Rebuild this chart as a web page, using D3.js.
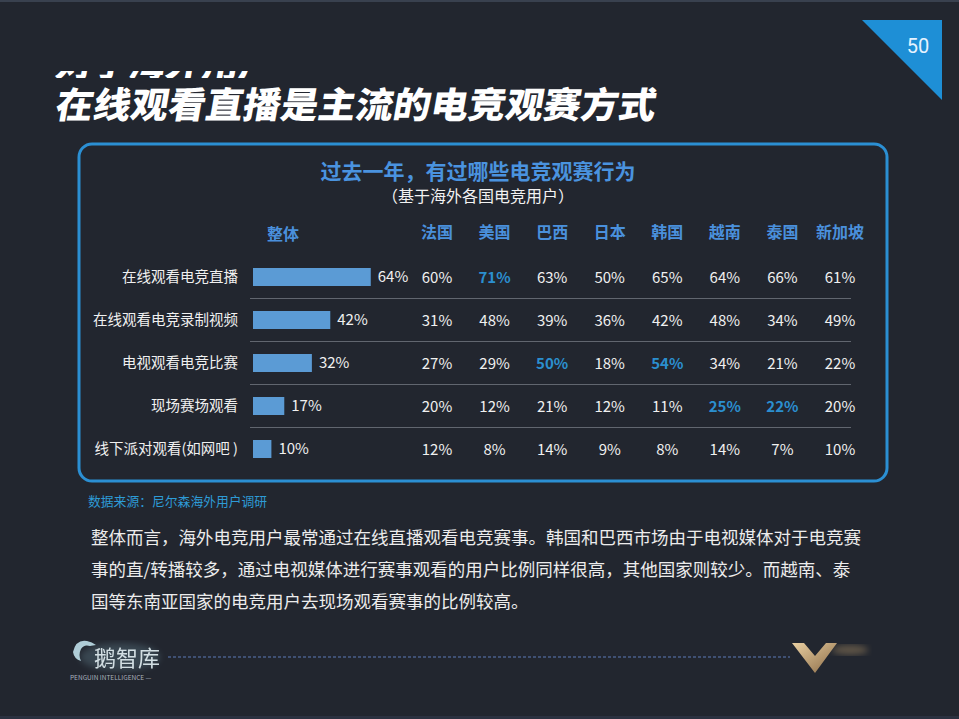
<!DOCTYPE html>
<html><head><meta charset="utf-8">
<script src="https://cdn.jsdelivr.net/npm/d3@7"></script>
<style>
html,body{margin:0;padding:0;background:#22262f;}
svg{display:block;font-family:"Noto Sans CJK SC","Noto Sans",sans-serif;}
</style></head>
<body>
<svg id="chart" width="959" height="719"></svg>
<script>
// ---- data ----
const categories = ["在线观看电竞直播","在线观看电竞录制视频","电视观看电竞比赛","现场赛场观看","线下派对观看(如网吧 )"];
const overall = [64, 42, 32, 17, 10];
const countries = ["法国","美国","巴西","日本","韩国","越南","泰国","新加坡"];
const france    = [60, 31, 27, 20, 12];
const usa       = [71, 48, 29, 12, 8];
const brazil    = [63, 39, 50, 21, 14];
const japan     = [50, 36, 18, 12, 9];
const korea     = [65, 42, 54, 11, 8];
const vietnam   = [64, 48, 34, 25, 14];
const thailand  = [66, 34, 21, 22, 7];
const singapore = [61, 49, 22, 20, 10];
const highlights = [[0,"美国"],[2,"巴西"],[2,"韩国"],[3,"越南"],[3,"泰国"]];
const pageNumber = "50";
const preTitle = "对于海外用户";
const mainTitle = "在线观看直播是主流的电竞观赛方式";
const chartTitle = "过去一年，有过哪些电竞观赛行为";
const chartSubtitle = "（基于海外各国电竞用户）";
const overallLabel = "整体";
const sourceText = "数据来源：尼尔森海外用户调研";
const paragraph = [
  "整体而言，海外电竞用户最常通过在线直播观看电竞赛事。韩国和巴西市场由于电视媒体对于电竞赛",
  "事的直/转播较多，通过电视媒体进行赛事观看的用户比例同样很高，其他国家则较少。而越南、泰",
  "国等东南亚国家的电竞用户去现场观看赛事的比例较高。"
];

const countrySeries = [france, usa, brazil, japan, korea, vietnam, thailand, singapore];

// ---- drawing ----
const svg = d3.select("#chart");
const W = 959, H = 719;
const defs = svg.append("defs");
const gold = defs.append("linearGradient").attr("id","gold").attr("x1","0").attr("y1","0").attr("x2","1").attr("y2","1");
gold.append("stop").attr("offset","0").attr("stop-color","#e9cfa2");
gold.append("stop").attr("offset","1").attr("stop-color","#8a6a45");
defs.append("filter").attr("id","blur").append("feGaussianBlur").attr("stdDeviation",3);

svg.append("rect").attr("width", W).attr("height", H).attr("fill", "#22262f");
svg.append("rect").attr("x",0).attr("y",0).attr("width",W).attr("height",2).attr("fill","#39414f");
svg.append("rect").attr("x",0).attr("y",H-3).attr("width",W).attr("height",3).attr("fill","#2b3140");

// page triangle
svg.append("path").attr("d","M862,20 L942,20 L942,100 Z").attr("fill","#1e8fd6");
svg.append("text").attr("x",918).attr("y",53).attr("text-anchor","middle")
  .attr("font-size",20).attr("fill","#e6f3ff").attr("font-family","Roboto, 'Noto Sans', sans-serif").text(pageNumber);

// clipped pre-title (only its lower edge shows)
defs.append("clipPath").attr("id","preclip").append("rect").attr("x",0).attr("y",71).attr("width",400).attr("height",7);
svg.append("g").attr("clip-path","url(#preclip)").append("text")
  .attr("transform","translate(54,77) skewX(-10)")
  .attr("font-size",36).attr("font-weight",900).attr("fill","#ffffff")
  .attr("textLength",220).attr("lengthAdjust","spacingAndGlyphs").text(preTitle);

// main title
svg.append("text")
  .attr("transform","translate(54,118) skewX(-10)")
  .attr("font-size",36).attr("font-weight",900).attr("fill","#ffffff")
  .attr("textLength",600).attr("lengthAdjust","spacingAndGlyphs")
  .text(mainTitle);

// panel
svg.append("rect").attr("x",79).attr("y",144).attr("width",808).attr("height",337)
  .attr("rx",13).attr("fill","none").attr("stroke","#2b8fd3").attr("stroke-width",3);

svg.append("text").attr("x",478).attr("y",179).attr("text-anchor","middle")
  .attr("font-size",21).attr("font-weight",700).attr("fill","#4a93df").text(chartTitle);
svg.append("text").attr("x",478).attr("y",202).attr("text-anchor","middle")
  .attr("font-size",16).attr("fill","#f2f2f2").text(chartSubtitle);

// scales
const y = d3.scalePoint().domain(categories).range([277, 449]);
const x = d3.scaleLinear().domain([0, 100]).range([0, 184]);
const cx = d3.scalePoint().domain(countries).range([437, 840]);
const barX = 253, barH = 18;

// headers
svg.append("text").attr("x",283).attr("y",240).attr("text-anchor","middle")
  .attr("font-size",16).attr("font-weight",700).attr("fill","#4a90dc").text(overallLabel);
svg.selectAll(".hdr").data(countries).join("text").attr("class","hdr")
  .attr("x", d => cx(d)).attr("y", 238).attr("text-anchor","middle")
  .attr("font-size",16).attr("font-weight",700).attr("fill","#4a90dc").text(d => d);

// separators
const seps = d3.pairs(categories).map(([a,b]) => (y(a)+y(b))/2);
svg.selectAll(".sep").data(seps).join("line").attr("class","sep")
  .attr("x1",250).attr("x2",851).attr("y1",d=>d).attr("y2",d=>d)
  .attr("stroke","#61666f").attr("stroke-width",1.2);

// row labels
svg.selectAll(".rl").data(categories).join("text").attr("class","rl")
  .attr("x",238).attr("y",d=>y(d)).attr("dy","0.36em").attr("text-anchor","end")
  .attr("font-size",14.5).attr("fill","#f0f0f0").text(d=>d);

// bars
svg.selectAll(".bar").data(overall).join("rect").attr("class","bar")
  .attr("x",barX).attr("y",(d,i)=>y(categories[i]) - barH/2)
  .attr("width",d=>x(d)).attr("height",barH).attr("fill","#5b9bd5");
svg.selectAll(".bl").data(overall).join("text").attr("class","bl")
  .attr("x",(d,i)=>barX + x(d) + 7).attr("y",(d,i)=>y(categories[i]))
  .attr("dy","0.36em").attr("font-size",15).attr("fill","#f0f0f0").text(d=>d+"%");

// country values
const fmt = d => d + "%";
const isHi = (ri, c) => highlights.some(h => h[0] === ri && h[1] === c);
countries.forEach((c, ci) => {
  svg.selectAll(".v"+ci).data(countrySeries[ci]).join("text").attr("class","v"+ci)
    .attr("x", cx(c)).attr("y",(d,i)=>y(categories[i]) + 1).attr("dy","0.36em")
    .attr("text-anchor","middle").attr("font-size",15)
    .attr("font-weight",(d,i)=>isHi(i,c)?700:400)
    .attr("fill",(d,i)=>isHi(i,c)?"#2b8fcf":"#f0f0f0").text(fmt);
});

// source
svg.append("text").attr("x",88).attr("y",506).attr("font-size",12.8).attr("fill","#2e9bd6").text(sourceText);

// paragraph
svg.selectAll(".para").data(paragraph).join("text").attr("class","para")
  .attr("x",91).attr("y",(d,i)=>544 + i*32).attr("font-size",17.5).attr("fill","#ececec")
  .text(d=>d);

// footer
svg.append("line").attr("x1",168).attr("x2",790).attr("y1",657).attr("y2",657)
  .attr("stroke","#4a5f8a").attr("stroke-width",1.5).attr("stroke-dasharray","3,2");
svg.append("ellipse").attr("cx",120).attr("cy",657).attr("rx",40).attr("ry",14)
  .attr("fill","#9fd6e6").attr("opacity",0.18).attr("filter","url(#blur)");
svg.append("text").attr("x",94).attr("y",666).attr("font-size",22)
  .attr("fill","#e4f0f4").attr("opacity",0.9).text("鹅智库");
svg.append("path").attr("d","M73,652 q3,-13 14,-11 q5,1 9,4 l-6,1 q-6,-2 -9,3 q-3,6 0,12 q-7,-2 -8,-9 Z")
  .attr("fill","#c8eaf4").attr("opacity",0.85);
svg.append("text").attr("x",70).attr("y",680).attr("font-size",6.5).attr("fill","#aab2bd").text("PENGUIN INTELLIGENCE —");
svg.append("path").attr("d","M792,643 L804,643 L815,656 L826,643 L837,643 L815,673 Z").attr("fill","url(#gold)");
svg.append("ellipse").attr("cx",850).attr("cy",650).attr("rx",18).attr("ry",5)
  .attr("fill","#b99a6a").attr("opacity",0.4).attr("filter","url(#blur)");
</script>
</body></html>
